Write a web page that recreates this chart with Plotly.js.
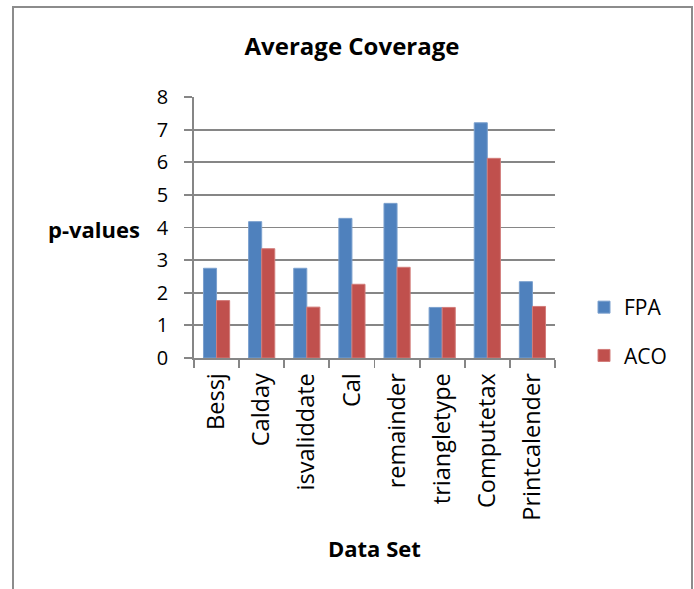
<!DOCTYPE html>
<html>
<head>
<meta charset="utf-8">
<script src="https://cdn.plot.ly/plotly-3.0.1.min.js"></script>
<style>
  html, body { margin: 0; padding: 0; background: #ffffff; }
  #chart { width: 694px; height: 589px; }
</style>
</head>
<body>
<div id="chart"></div>
<script>
// Average coverage per data set for the two algorithms
const dataSets = ['Bessj', 'Calday', 'isvaliddate', 'Cal', 'remainder', 'triangletype', 'Computetax', 'Printcalender'];
const fpaValues = [2.75, 4.18, 2.75, 4.28, 4.74, 1.55, 7.21, 2.34];
const acoValues = [1.76, 3.35, 1.56, 2.26, 2.78, 1.55, 6.12, 1.58];
const seriesNames = ['FPA', 'ACO'];
const yTicks = [0, 1, 2, 3, 4, 5, 6, 7, 8];

const W = 694, H = 589;
const M = { l: 194, r: 139, t: 97, b: 231 };
const plotW = W - M.l - M.r, plotH = H - M.t - M.b;
// pixel -> paper coordinates helpers for the frame and annotations
const px = x => (x - M.l) / plotW;
const py = y => (H - M.b - y) / plotH;

const FONT = '"Open Sans", sans-serif';
const GRID = '#868686';

const traces = [
  {
    type: 'bar', name: seriesNames[0], x: dataSets, y: fpaValues,
    marker: { color: '#4F81BD', line: { color: '#7BA0CE', width: 1 } },
    legendgroup: 'a'
  },
  {
    type: 'bar', name: seriesNames[1], x: dataSets, y: acoValues,
    marker: { color: '#C0504D', line: { color: '#D27C7A', width: 1 } },
    legendgroup: 'b'
  }
];

const layout = {
  width: W, height: H,
  margin: M,
  paper_bgcolor: '#ffffff', plot_bgcolor: '#ffffff',
  font: { family: FONT, color: '#000000', size: 20 },
  barmode: 'group', bargap: 0.42, bargroupgap: 0,
  title: {
    text: '<b>Average Coverage</b>',
    font: { family: FONT, size: 24, color: '#000000' },
    xref: 'container', yref: 'container',
    x: 352 / W, y: 1 - 47 / H, xanchor: 'center', yanchor: 'middle'
  },
  xaxis: {
    type: 'category',
    tickson: 'boundaries',
    ticks: 'outside', ticklen: 8, tickcolor: GRID, tickwidth: 1.8,
    ticklabelstandoff: 4,
    showline: true, linecolor: GRID, linewidth: 1.8,
    tickangle: -90,
    tickfont: { family: FONT, size: 23.5, color: '#000000' },
    showgrid: false, zeroline: false,
    automargin: false
  },
  yaxis: {
    range: [0, 8], tickvals: yTicks,
    ticks: 'outside', ticklen: 8, tickcolor: GRID, tickwidth: 1.8,
    ticklabelstandoff: 12,
    showline: true, linecolor: GRID, linewidth: 1.8,
    showgrid: true, gridcolor: GRID, gridwidth: 1.8,
    zeroline: false,
    tickfont: { family: FONT, size: 20, color: '#000000' },
    automargin: false
  },
  legend: {
    x: px(584), y: py(287), xanchor: 'left', yanchor: 'top',
    font: { family: FONT, size: 21, color: '#000000' },
    traceorder: 'grouped', tracegroupgap: 18,
    bgcolor: 'rgba(0,0,0,0)'
  },
  annotations: [
    {
      text: '<b>p-values</b>', xref: 'paper', yref: 'paper',
      x: px(142), y: py(229), xanchor: 'right', yanchor: 'middle',
      showarrow: false, font: { family: FONT, size: 22, color: '#000000' }
    },
    {
      text: '<b>Data Set</b>', xref: 'paper', yref: 'paper',
      x: 0.5, y: py(548), xanchor: 'center', yanchor: 'middle',
      showarrow: false, font: { family: FONT, size: 22, color: '#000000' }
    }
  ],
  shapes: [
    {
      type: 'path', xref: 'paper', yref: 'paper',
      path: `M ${px(13)} ${py(592)} L ${px(13)} ${py(7)} L ${px(692)} ${py(7)} L ${px(692)} ${py(592)}`,
      line: { color: '#8C8C8C', width: 2 }
    }
  ]
};

Plotly.newPlot('chart', traces, layout, { displayModeBar: false, staticPlot: true });
</script>
</body>
</html>
